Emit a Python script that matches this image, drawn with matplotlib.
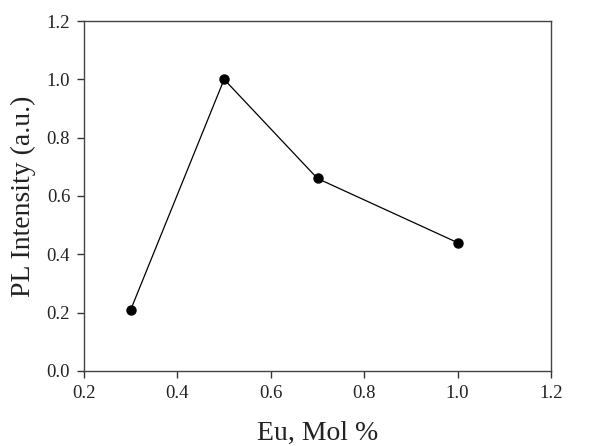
import matplotlib
matplotlib.use("Agg")
import matplotlib.pyplot as plt

eu_mol = [0.3, 0.5, 0.7, 1.0]
pl_intensity = [0.21, 1.0, 0.66, 0.44]
xticks = [0.2, 0.4, 0.6, 0.8, 1.0, 1.2]
yticks = [0.0, 0.2, 0.4, 0.6, 0.8, 1.0, 1.2]

plt.rcParams['font.family'] = ['Liberation Serif', 'DejaVu Serif']

fig = plt.figure(figsize=(5.98, 4.46), dpi=100)
ax = fig.add_axes([0.1405, 0.1682, 0.7809, 0.7847])
ax.plot(eu_mol, pl_intensity, color='black', linewidth=0.9, marker='o', markersize=6.5)
ax.set_xlim(0.2, 1.2)
ax.set_ylim(0.0, 1.2)
ax.set_xticks(xticks)
ax.set_yticks(yticks)
ax.set_xticklabels([f"{v:.1f}" for v in xticks])
ax.set_yticklabels([f"{v:.1f}" for v in yticks])
ax.tick_params(direction='out', length=5, width=1, labelsize=13.5, colors='#333333', labelcolor='#222222', pad=5)
for s in ax.spines.values():
    s.set_color('#444444')
    s.set_linewidth(1.0)
ax.set_xlabel('Eu, Mol %', fontsize=20, color='#222222', labelpad=14)
ax.set_ylabel('PL Intensity (a.u.)', fontsize=20, color='#222222', labelpad=8)
fig.savefig('out.png', dpi=100)
